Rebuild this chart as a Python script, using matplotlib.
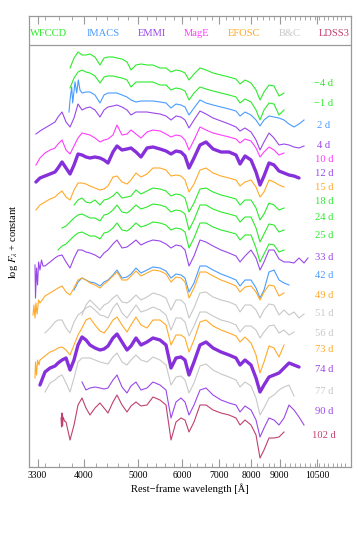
import matplotlib
matplotlib.use('Agg')
import matplotlib.pyplot as plt
from matplotlib.ticker import FixedLocator, NullFormatter, NullLocator

plt.rcParams['font.family'] = ['Liberation Serif', 'DejaVu Serif']
plt.rcParams['mathtext.fontset'] = 'stix'

# sampling wavelengths (Angstrom) at which the spectra were read
wave_nodes = [3238, 3278, 3333, 3403, 3475, 3547, 3592, 3652, 3713, 3775,
              3838, 3902, 3967, 4033, 4100, 4186, 4274, 4346, 4418, 4510,
              4586, 4682, 4780, 4860, 4961, 5065, 5193, 5323, 5480, 5618,
              5736, 5856, 5978, 6078, 6180, 6309, 6468, 6631, 6826, 7056,
              7294, 7508, 7634, 7794, 7990, 8157, 8293, 8432, 8608, 8788,
              8972, 9160, 9351, 9547, 9747, 9951, 10117]

phases = ['\u22124 d', '\u22121 d', '2 d', '4 d', '10 d', '12 d', '15 d', '18 d',
          '24 d', '25 d', '33 d', '42 d', '49 d', '51 d', '56 d', '73 d',
          '74 d', '77 d', '90 d', '102 d']
instrument = ['WFCCD', 'WFCCD', 'IMACS', 'EMMI', 'MagE', 'EMMI', 'EFOSC', 'WFCCD',
              'WFCCD', 'WFCCD', 'EMMI', 'IMACS', 'EFOSC', 'B&C', 'B&C', 'EFOSC',
              'EMMI', 'B&C', 'EMMI', 'LDSS3']
thick = ['12 d', '74 d']
start_index = [9, 9, 12, 1, 1, 1, 1, 10, 7, 6, 3, 10, 3, 12, 3, 2, 2, 3, 12, 8]
label_level = [383, 363, 341, 321, 308, 294, 280, 266, 249, 231, 210, 191,
               172, 154, 134, 118, 97, 76, 56, 32]

instrument_names = ['WFCCD', 'IMACS', 'EMMI', 'MagE', 'EFOSC', 'B&C', 'LDSS3']
instrument_colors = ['#2eea2e', '#4a9cff', '#9a48ea', '#ff3cff', '#ffaa2a',
                     '#c8c8c8', '#c04070']
thick_color = '#8630dc'

# noisy blue ends, read point by point
wl_p2_blue = [3759, 3775, 3801, 3817, 3854, 3881, 3907, 3934]
f_p2_blue = [355, 367, 380, 364, 385, 374, 387, 377]
wl_p33_blue = [3265, 3272, 3286, 3300, 3314, 3333, 3354, 3375]
f_p33_blue = [202, 169, 199, 182, 205, 197, 207, 201]
wl_p49_blue = [3238, 3251, 3265, 3278, 3293, 3314, 3333, 3375]
f_p49_blue = [152, 162, 149, 164, 153, 167, 164, 168]
wl_p73_blue = [3265, 3272, 3286, 3300, 3320]
f_p73_blue = [89, 105, 92, 107, 102]
wl_p102_blue = [3637, 3645, 3652, 3660, 3668, 3690]
f_p102_blue = [49, 40, 54, 41, 50, 46]

f_m4 = [399, 409, 415, 412, 412, 413, 410, 402, 409, 410, 410, 409, 408, 405, 397,
        402, 403, 402, 402, 399, 399, 395, 397, 396, 394, 387, 393, 399, 397, 394,
        392, 390, 388, 383, 387, 384, 377, 367, 375, 382, 381, 371, 374]
f_m1 = [379, 389, 395, 397, 395, 394, 391, 384, 390, 391, 391, 390, 389, 387, 380,
        385, 385, 385, 385, 382, 382, 377, 379, 378, 376, 367, 374, 380, 378, 376,
        374, 372, 370, 364, 368, 365, 357, 347, 357, 364, 363, 352, 357]
f_p2 = [374, 375, 375, 372, 364, 372, 374, 374, 374, 372, 370, 367,
        365, 366, 366, 366, 365, 364, 359, 363, 362, 360, 352, 359, 367, 364, 362,
        360, 358, 356, 351, 355, 352, 347, 341, 347, 351, 350, 349, 347, 343, 340,
        343, 347]
f_p4 = [333, 336, 339, 342, 345, 350, 355, 345, 340, 349, 363, 357, 359, 360, 357,
        350, 357, 360, 361, 362, 360, 357, 352, 355, 355, 355, 354, 353, 351, 347,
        351, 350, 347, 339, 347, 356, 353, 349, 346, 343, 340, 336, 339, 335, 327,
        317, 325, 334, 329, 322, 323, 322, 320, 319, 321]
f_p10 = [302, 309, 314, 317, 319, 323, 327, 317, 313, 321, 329, 334, 333, 332, 329,
         325, 327, 328, 332, 342, 332, 333, 337, 333, 329, 335, 337, 336, 333, 330,
         332, 331, 327, 317, 327, 340, 337, 334, 332, 330, 328, 324, 328, 326, 319,
         310, 315, 320, 317, 312, 314]
f_p12 = [285, 289, 291, 293, 295, 299, 305, 299, 293, 302, 313, 312, 310, 309, 310,
         309, 307, 304, 315, 321, 317, 318, 319, 315, 310, 319, 320, 318, 316, 313,
         316, 315, 311, 299, 309, 322, 325, 318, 315, 315, 312, 303, 311, 307, 295,
         282, 291, 304, 302, 296, 294, 292, 291, 289]
f_p15 = [257, 262, 265, 268, 270, 273, 276, 270, 267, 277, 284, 284, 283, 281, 279,
         277, 278, 281, 290, 291, 285, 283, 287, 294, 290, 293, 299, 299, 297, 291,
         292, 291, 287, 275, 283, 297, 299, 294, 291, 289, 287, 281, 285, 287, 280,
         270, 275, 287, 285, 282, 280]
f_p18 = [262, 267, 269, 265, 264, 267, 262, 267, 268, 271, 275, 269, 270, 271, 277,
         273, 276, 279, 278, 276, 271, 273, 272, 269, 255, 264, 278, 279, 275, 272,
         270, 268, 262, 267, 267, 259, 247, 253, 264, 262, 257, 259]
f_p24 = [239, 241, 245, 249, 252, 253, 251, 249, 249, 246, 252, 253, 257, 262, 255,
         254, 257, 262, 258, 260, 263, 262, 260, 255, 257, 256, 253, 237, 247, 262,
         262, 258, 255, 253, 251, 245, 250, 250, 239, 225, 233, 243, 242, 235, 237]
f_p25 = [217, 221, 223, 227, 231, 234, 235, 233, 231, 231, 228, 234, 235, 239, 244,
         237, 236, 239, 244, 240, 242, 245, 244, 242, 237, 239, 238, 235, 219, 229,
         244, 244, 240, 237, 235, 233, 227, 232, 232, 219, 205, 213, 223, 222, 215,
         217]
f_p33 = [201, 205, 209, 211, 212, 205, 199, 209, 217, 217, 215, 214,
         212, 209, 214, 217, 223, 227, 219, 220, 223, 227, 222, 225, 227, 226, 223,
         219, 222, 221, 217, 201, 211, 227, 225, 221, 217, 214, 211, 205, 211, 217,
         209, 197, 205, 217, 217, 208, 205, 205, 204, 209, 204, 209]
f_p42 = [177, 185, 189, 187, 185, 184, 181, 185, 187, 192, 197, 189, 190, 193, 199,
         194, 197, 200, 199, 196, 189, 193, 192, 189, 175, 184, 201, 201, 197, 193,
         190, 187, 181, 187, 187, 179, 169, 177, 195, 197, 187, 184, 182]
f_p49 = [171, 174, 177, 179, 181, 175, 172, 179, 187, 189, 187, 184,
         182, 179, 183, 186, 191, 195, 187, 187, 191, 196, 191, 194, 197, 196, 193,
         185, 190, 189, 185, 169, 179, 195, 195, 191, 187, 184, 181, 175, 180, 181,
         175, 167, 175, 182, 181, 171, 174]
f_p51 = [152, 162, 167, 162, 157, 162, 164, 169, 172, 165, 164, 167, 172, 167, 170,
         174, 172, 169, 157, 167, 167, 163, 149, 159, 174, 175, 170, 167, 165, 162,
         155, 162, 162, 157, 149, 157, 163, 162, 152, 157, 152, 155, 149, 153]
f_p56 = [134, 139, 145, 147, 147, 139, 134, 145, 152, 155, 159, 161, 157, 152, 151,
         149, 159, 164, 154, 149, 155, 162, 155, 157, 160, 157, 152, 137, 149, 149,
         145, 131, 141, 155, 155, 151, 147, 145, 142, 135, 141, 141, 137, 129, 135,
         141, 142, 134, 137, 132, 135]
f_p73 = [107, 111, 115, 117, 119, 120, 117, 112, 122, 132, 139, 147, 149, 142,
         136, 134, 139, 147, 150, 142, 135, 142, 150, 142, 139, 147, 147, 142, 122,
         132, 132, 129, 115, 127, 145, 147, 141, 137, 134, 131, 125, 130, 124, 112,
         94, 105, 121, 119, 110, 122]
f_p74 = [82, 95, 99, 101, 104, 107, 109, 97, 107, 122, 130, 127, 122, 119, 117,
         118, 121, 129, 133, 125, 117, 121, 129, 122, 125, 129, 127, 122, 99, 109,
         110, 107, 92, 105, 122, 125, 119, 115, 112, 109, 102, 107, 102, 89, 75,
         82, 90, 92, 94, 99, 104, 102, 100]
f_p77 = [75, 84, 87, 90, 92, 84, 75, 89, 105, 109, 109, 109, 107, 105, 104,
         103, 110, 114, 105, 102, 107, 112, 107, 105, 110, 107, 102, 82, 90, 91,
         87, 74, 84, 101, 103, 97, 93, 90, 87, 80, 85, 81, 69, 52, 59,
         69, 72, 77, 80, 82, 71]
f_p90 = [85, 77, 79, 80, 79, 78, 79, 87, 92, 80, 74, 81, 85, 77, 79,
         85, 82, 77, 49, 65, 69, 65, 52, 62, 77, 79, 72, 67, 64, 62,
         55, 61, 57, 47, 30, 39, 49, 47, 42, 49, 62, 57, 50, 42]
f_p102 = [45, 27, 42, 62, 69, 59, 52, 59, 64, 59, 54, 65, 72, 62,
          55, 61, 65, 61, 62, 70, 67, 62, 27, 45, 49, 47, 35, 45, 62,
          62, 57, 54, 52, 49, 42, 47, 42, 32, 9, 17, 29, 29, 30, 35]

fluxes = [f_m4, f_m1, f_p2, f_p4, f_p10, f_p12, f_p15, f_p18, f_p24, f_p25,
          f_p33, f_p42, f_p49, f_p51, f_p56, f_p73, f_p74, f_p77, f_p90, f_p102]
blue_ends = {'2 d': (wl_p2_blue, f_p2_blue), '33 d': (wl_p33_blue, f_p33_blue),
             '49 d': (wl_p49_blue, f_p49_blue), '73 d': (wl_p73_blue, f_p73_blue),
             '102 d': (wl_p102_blue, f_p102_blue)}

major_ticks = [3300, 4000, 5000, 6000, 7000, 8000, 9000, 10500]
tick_labels = ['3300', '4000', '5000', '6000', '7000', '8000', '9000', '10500']
minor_ticks = [w for w in range(3400, 12000, 200) if w not in major_ticks]

W, H = 358, 537
fig = plt.figure(figsize=(W / 100, H / 100), dpi=100)
ax = fig.add_axes([29 / W, 1 - 467 / H, 322 / W, 451 / H])

color_of = dict(zip(instrument_names, instrument_colors))
label_x = 10807
for ph, ins, s0, fl, ly in zip(phases, instrument, start_index, fluxes, label_level):
    wl = wave_nodes[s0:s0 + len(fl)]
    if ph in blue_ends:
        bw, bf = blue_ends[ph]
        wl = bw + wl
        fl = bf + fl
    c = color_of[ins]
    if ph in thick:
        ax.plot(wl, fl, color=thick_color, lw=2.4, solid_capstyle='round',
                solid_joinstyle='round', zorder=3)
    else:
        ax.plot(wl, fl, color=c, lw=0.8, zorder=2)
    ax.text(label_x, ly, ph, color=c, fontsize=7.6, ha='center', va='center')

ax.set_xscale('log')
ax.set_xlim(3185, 12090)
ax.set_ylim(0, 451)
ax.axhline(422, color='#999999', lw=0.9)

ax.xaxis.set_major_locator(FixedLocator(major_ticks))
ax.xaxis.set_minor_locator(FixedLocator(minor_ticks))
ax.set_xticklabels(tick_labels)
ax.xaxis.set_minor_formatter(NullFormatter())
ax.yaxis.set_major_locator(NullLocator())
ax.yaxis.set_minor_locator(NullLocator())
ax.tick_params(axis='x', which='both', direction='in', top=True, colors='#999999',
               labelcolor='black', labelsize=7, pad=3)
ax.tick_params(axis='x', which='major', length=6, width=0.8)
ax.tick_params(axis='x', which='minor', length=3, width=0.6)
for sp in ax.spines.values():
    sp.set_color('#999999')
    sp.set_linewidth(0.9)

ax.set_xlabel('Rest\u2212frame wavelength [\u00c5]', fontsize=7.6, labelpad=2)
ax.set_ylabel(r'log $F_\lambda$ + constant', fontsize=7.6, labelpad=6.5)

legend_x = [49, 103, 152, 197, 244, 290, 334]
for name, c, xp in zip(instrument_names, instrument_colors, legend_x):
    fig.text(xp / W, 1 - 33 / H, name, color=c, fontsize=7.6, ha='center', va='center')

fig.savefig('out.png', dpi=100)
